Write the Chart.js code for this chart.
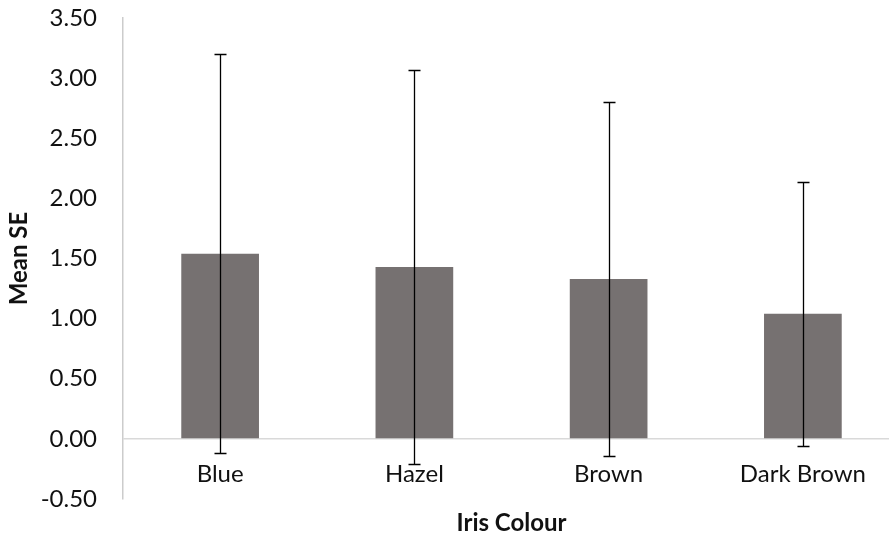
<!DOCTYPE html>
<html>
<head>
<meta charset="utf-8">
<script src="https://cdn.jsdelivr.net/npm/chart.js@4.4.1/dist/chart.umd.min.js"></script>
<style>
  html, body { margin: 0; padding: 0; background: #ffffff; overflow: hidden; }
  #wrap { position: relative; width: 900px; height: 535px; }
</style>
</head>
<body>
<div id="wrap"><canvas id="c" width="900" height="535"></canvas></div>
<script>
// ---- data ----
const categories = ['Blue', 'Hazel', 'Brown', 'Dark Brown'];
const meanSE = [1.54, 1.43, 1.33, 1.04];
const errorSE = [1.66, 1.64, 1.47, 1.10];
const yMin = -0.5;
const yMax = 3.5;
const yStep = 0.5;
const xTitle = 'Iris Colour';
const yTitle = 'Mean SE';

const FONT = 'Lato';

const errorBarPlugin = {
  id: 'errorBars',
  afterDatasetsDraw(chart) {
    const meta = chart.getDatasetMeta(0);
    const y = chart.scales.y;
    const ctx = chart.ctx;
    ctx.save();
    ctx.strokeStyle = '#000000';
    ctx.lineWidth = 1.3;
    meta.data.forEach((bar, i) => {
      const x = Math.round(bar.x) + 0.5;
      const top = Math.round(y.getPixelForValue(meanSE[i] + errorSE[i])) + 0.5;
      const bot = Math.round(y.getPixelForValue(meanSE[i] - errorSE[i])) + 0.5;
      const cap = 6;
      ctx.beginPath();
      ctx.moveTo(x, top); ctx.lineTo(x, bot);
      ctx.moveTo(x - cap, top); ctx.lineTo(x + cap, top);
      ctx.moveTo(x - cap, bot); ctx.lineTo(x + cap, bot);
      ctx.stroke();
    });
    ctx.restore();
  }
};

function build() {
  new Chart(document.getElementById('c'), {
    type: 'bar',
    data: {
      labels: categories,
      datasets: [{
        data: meanSE,
        backgroundColor: '#767171',
        borderWidth: 0,
        categoryPercentage: 1.0,
        barPercentage: 0.4
      }]
    },
    options: {
      responsive: false,
      animation: false,
      events: [],
      layout: { padding: { top: 18, left: 0, right: 0, bottom: 36 } },
      plugins: { legend: { display: false }, tooltip: { enabled: false } },
      scales: {
        x: {
          position: { y: 0 },
          grid: { display: false, drawTicks: false },
          border: { display: false },
          ticks: {
            color: '#111111',
            padding: 21,
            maxRotation: 0,
            autoSkip: false,
            font: { family: FONT, size: 24 }
          },
          title: {
            display: true,
            text: xTitle,
            color: '#111111',
            padding: { top: 0, bottom: 0 },
            font: { family: FONT, size: 24, weight: 'bold', lineHeight: 1 }
          },
          afterFit(scale) {
            scale.height = 96;
            scale.paddingLeft = 0;
            scale.paddingRight = 0;
          }
        },
        y: {
          min: yMin,
          max: yMax,
          grid: {
            drawTicks: false,
            color: (c) => (c.tick && c.tick.value === 0) ? '#d9d9d9' : 'rgba(0,0,0,0)',
            lineWidth: 1.5
          },
          border: { display: true, color: '#cccccc', width: 1.5 },
          ticks: {
            stepSize: yStep,
            color: '#111111',
            padding: 26,
            font: { family: FONT, size: 24 },
            callback: (v) => Number(v).toFixed(2)
          },
          title: {
            display: true,
            text: yTitle,
            color: '#111111',
            padding: { top: 7, bottom: 0 },
            font: { family: FONT, size: 24, weight: 'bold', lineHeight: 1 }
          },
          afterFit(scale) {
            scale.width = 123;
            scale.paddingTop = 0;
            scale.paddingBottom = 0;
          }
        }
      }
    },
    plugins: [errorBarPlugin]
  });
}

if (document.fonts && document.fonts.load) {
  Promise.all([
    document.fonts.load('24px Lato'),
    document.fonts.load('bold 24px Lato')
  ]).then(build, build);
} else {
  build();
}
</script>
</body>
</html>
